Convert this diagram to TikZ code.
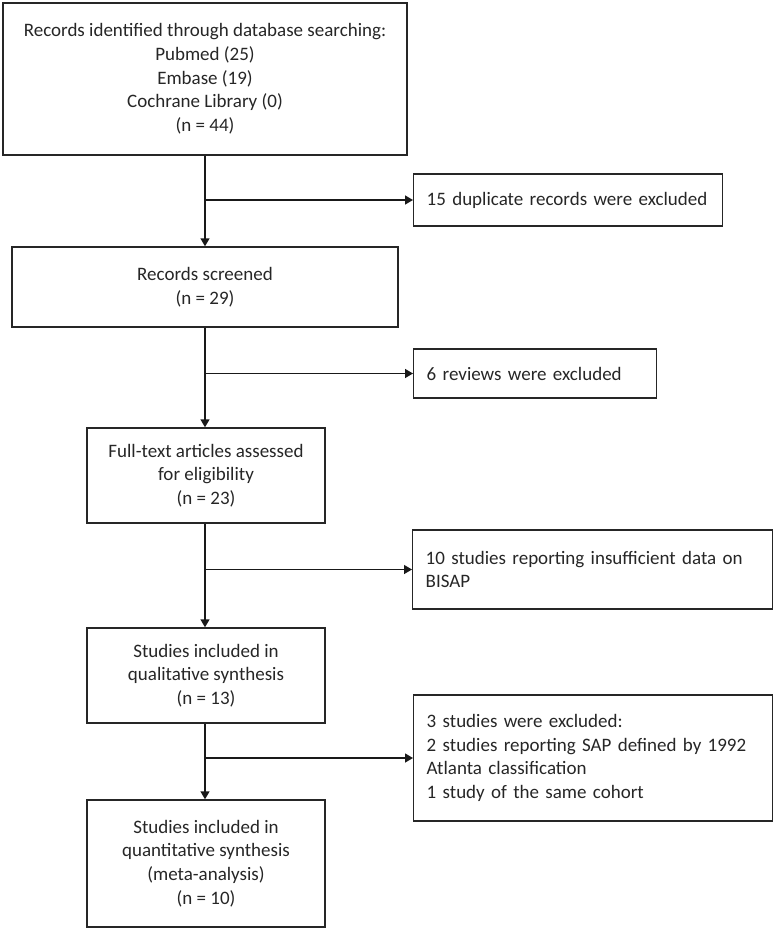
\documentclass[tikz,border=0pt]{standalone}
\usepackage{fontspec}
\setmainfont{Carlito}
\usepackage{tikz}
\usetikzlibrary{arrows.meta}
\usetikzlibrary{positioning}
\tikzstyle{mbox}=[rectangle,draw=black!85,line width=1.4pt,text=black!85,align=center,inner sep=0pt]
\tikzstyle{xbox}=[rectangle,draw=black!85,line width=1.4pt,text=black!85,align=left,anchor=west,inner xsep=13pt,inner ysep=0pt]
\tikzstyle{flow}=[draw=black!90,line width=1.4pt,-{Triangle[length=8pt,width=9pt]}]

\begin{document}
\begin{tikzpicture}[x=1pt,y=-1pt,font=\fontsize{19}{23.7}\selectfont]
\useasboundingbox (0,0) rectangle (775,931);

%main column
\node[mbox,minimum width=404pt,minimum height=152pt] (ident) at (205,79) {Records identified through database searching:\\Pubmed (25)\\Embase (19)\\Cochrane Library (0)\\(n = 44)};
\node[mbox,minimum width=386pt,minimum height=80pt] (screen) at (205,287) {Records screened\\(n = 29)};
\node[mbox,minimum width=238pt,minimum height=95pt] (full) at (206,475.5) {Full-text articles assessed\\for eligibility\\(n = 23)};
\node[mbox,minimum width=238pt,minimum height=95pt] (qual) at (206,675.5) {Studies included in\\qualitative synthesis\\(n = 13)};
\node[mbox,minimum width=238pt,minimum height=127pt] (quant) at (206,863.5) {Studies included in\\quantitative synthesis\\(meta-analysis)\\(n = 10)};

%excluded
\node[xbox,minimum height=52pt,text width=283pt] (dup) at (413,200) {15 duplicate records were excluded};
\node[xbox,minimum height=49pt,text width=217pt] (rev) at (413,373.5) {6 reviews were excluded};
\node[xbox,minimum height=79pt,text width=334pt] (insuf) at (412,569.5) {10 studies reporting insufficient data on\\BISAP};
\node[xbox,minimum height=126pt,text width=333pt] (excl) at (413,758) {3 studies were excluded:\\2 studies reporting SAP defined by 1992\\Atlanta classification\\1 study of the same cohort};

%branch points
\coordinate (b1) at (ident.south |- dup.west);
\coordinate (b2) at (screen.south |- rev.west);
\coordinate (b3) at (ident.south |- insuf.west);
\coordinate (b4) at (ident.south |- excl.west);

\draw[flow] (ident.south) -- (ident.south |- screen.north);
\draw[flow] (screen.south) -- (screen.south |- full.north);
\draw[flow] (screen.south |- full.south) -- (screen.south |- qual.north);
\draw[flow] (screen.south |- qual.south) -- (screen.south |- quant.north);

\draw[flow] (b1) -- (dup);
\draw[flow] (b2) -- (rev);
\draw[flow] (b3) -- (insuf);
\draw[flow] (b4) -- (excl);

\end{tikzpicture}
\end{document}
